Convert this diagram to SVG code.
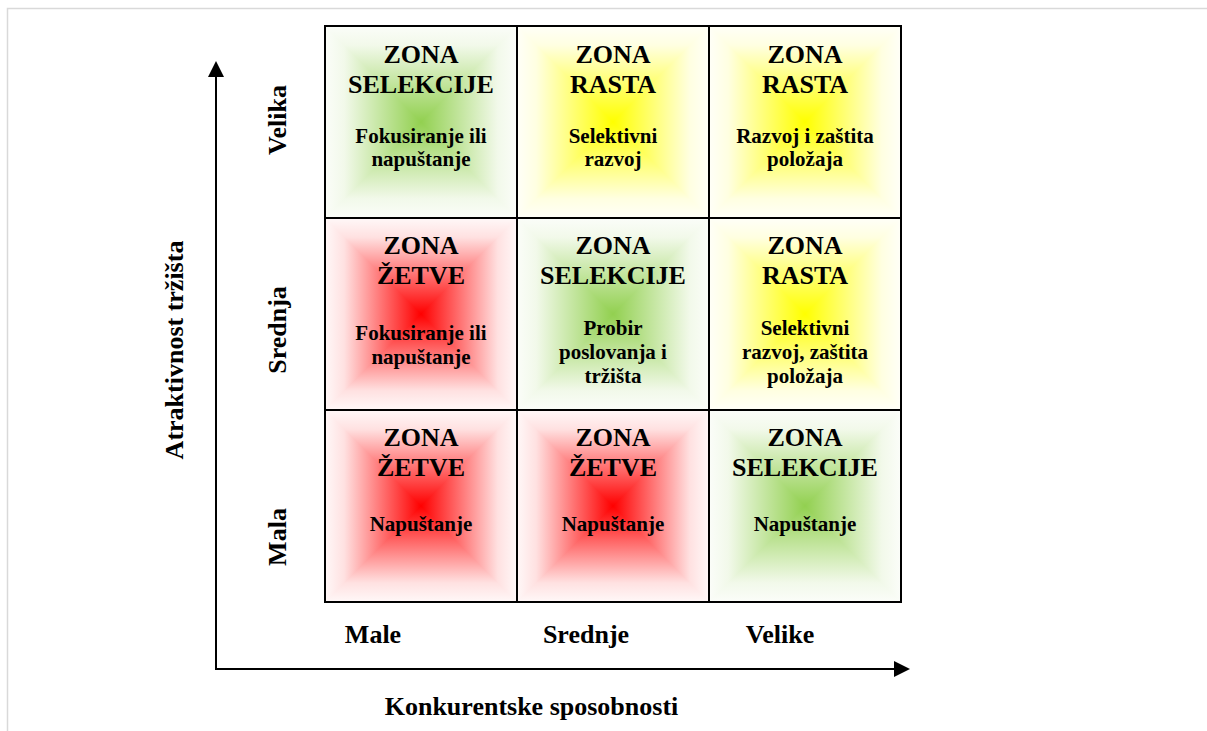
<svg xmlns="http://www.w3.org/2000/svg" width="1207" height="731" viewBox="0 0 1207 731">
<style>
.t{font-family:"Liberation Serif","Times New Roman",serif;font-weight:bold;fill:#000;text-anchor:middle}
.h{font-size:26px}
.s{font-size:21px}
.ax{font-size:26px}
.cell{fill:none;stroke:#000;stroke-width:2}
.line{stroke:#000;stroke-width:2;fill:none}
.gs0{stop-color:#92d050}.gs1{stop-color:#ceeab0}.gs2{stop-color:#f2f9ea}.gs3{stop-color:#fbfdf9}
.ys0{stop-color:#ffff00}.ys1{stop-color:#ffff8c}.ys2{stop-color:#ffffe1}.ys3{stop-color:#fffff8}
.rs0{stop-color:#ff0000}.rs1{stop-color:#ff8c8c}.rs2{stop-color:#ffe1e1}.rs3{stop-color:#fff8f8}
</style>
<defs>
<linearGradient id="gT" x1="0" y1="1" x2="0" y2="0"><stop offset="0" class="gs0"/><stop offset="0.5" class="gs1"/><stop offset="0.8" class="gs2"/><stop offset="1" class="gs3"/></linearGradient>
<linearGradient id="gB" href="#gT" x1="0" y1="0" x2="0" y2="1"/>
<linearGradient id="gL" href="#gT" x1="1" y1="0" x2="0" y2="0"/>
<linearGradient id="gR" href="#gT" x1="0" y1="0" x2="1" y2="0"/>
<linearGradient id="yT" x1="0" y1="1" x2="0" y2="0"><stop offset="0" class="ys0"/><stop offset="0.5" class="ys1"/><stop offset="0.8" class="ys2"/><stop offset="1" class="ys3"/></linearGradient>
<linearGradient id="yB" href="#yT" x1="0" y1="0" x2="0" y2="1"/>
<linearGradient id="yL" href="#yT" x1="1" y1="0" x2="0" y2="0"/>
<linearGradient id="yR" href="#yT" x1="0" y1="0" x2="1" y2="0"/>
<linearGradient id="rT" x1="0" y1="1" x2="0" y2="0"><stop offset="0" class="rs0"/><stop offset="0.5" class="rs1"/><stop offset="0.8" class="rs2"/><stop offset="1" class="rs3"/></linearGradient>
<linearGradient id="rB" href="#rT" x1="0" y1="0" x2="0" y2="1"/>
<linearGradient id="rL" href="#rT" x1="1" y1="0" x2="0" y2="0"/>
<linearGradient id="rR" href="#rT" x1="0" y1="0" x2="1" y2="0"/>
<marker id="arr" markerWidth="16" markerHeight="16" refX="14" refY="8" orient="auto" markerUnits="userSpaceOnUse"><path d="M0,0 L16,8 L0,16 Z" fill="#000"/></marker>
</defs>
<rect width="1207" height="731" fill="#fff"/>
<path d="M7.5,731 V8.5 H1207" fill="none" stroke="#d9d9d9" stroke-width="1.5"/>

<g id="cell-r1c1">
<polygon points="325,26 517,26 421,122" fill="url(#gT)" stroke="url(#gT)" stroke-width="1"/>
<polygon points="325,218 517,218 421,122" fill="url(#gB)" stroke="url(#gB)" stroke-width="1"/>
<polygon points="325,26 325,218 421,122" fill="url(#gL)" stroke="url(#gL)" stroke-width="1"/>
<polygon points="517,26 517,218 421,122" fill="url(#gR)" stroke="url(#gR)" stroke-width="1"/>
<rect class="cell" x="325" y="26" width="192" height="192"/>
<text class="t h" x="421" y="62.5">ZONA</text>
<text class="t h" x="421" y="92.5">SELEKCIJE</text>
<text class="t s" x="421" y="142.5">Fokusiranje ili</text>
<text class="t s" x="421" y="166">napuštanje</text>
</g>
<g id="cell-r1c2">
<polygon points="517,26 709,26 613,122" fill="url(#yT)" stroke="url(#yT)" stroke-width="1"/>
<polygon points="517,218 709,218 613,122" fill="url(#yB)" stroke="url(#yB)" stroke-width="1"/>
<polygon points="517,26 517,218 613,122" fill="url(#yL)" stroke="url(#yL)" stroke-width="1"/>
<polygon points="709,26 709,218 613,122" fill="url(#yR)" stroke="url(#yR)" stroke-width="1"/>
<rect class="cell" x="517" y="26" width="192" height="192"/>
<text class="t h" x="613" y="62.5">ZONA</text>
<text class="t h" x="613" y="92.5">RASTA</text>
<text class="t s" x="613" y="142.5">Selektivni</text>
<text class="t s" x="613" y="166">razvoj</text>
</g>
<g id="cell-r1c3">
<polygon points="709,26 901,26 805,122" fill="url(#yT)" stroke="url(#yT)" stroke-width="1"/>
<polygon points="709,218 901,218 805,122" fill="url(#yB)" stroke="url(#yB)" stroke-width="1"/>
<polygon points="709,26 709,218 805,122" fill="url(#yL)" stroke="url(#yL)" stroke-width="1"/>
<polygon points="901,26 901,218 805,122" fill="url(#yR)" stroke="url(#yR)" stroke-width="1"/>
<rect class="cell" x="709" y="26" width="192" height="192"/>
<text class="t h" x="805" y="62.5">ZONA</text>
<text class="t h" x="805" y="92.5">RASTA</text>
<text class="t s" x="805" y="142.5">Razvoj i zaštita</text>
<text class="t s" x="805" y="166">položaja</text>
</g>

<g id="cell-r2c1">
<polygon points="325,218 517,218 421,314" fill="url(#rT)" stroke="url(#rT)" stroke-width="1"/>
<polygon points="325,410 517,410 421,314" fill="url(#rB)" stroke="url(#rB)" stroke-width="1"/>
<polygon points="325,218 325,410 421,314" fill="url(#rL)" stroke="url(#rL)" stroke-width="1"/>
<polygon points="517,218 517,410 421,314" fill="url(#rR)" stroke="url(#rR)" stroke-width="1"/>
<rect class="cell" x="325" y="218" width="192" height="192"/>
<text class="t h" x="421" y="254">ZONA</text>
<text class="t h" x="421" y="284">ŽETVE</text>
<text class="t s" x="421" y="340">Fokusiranje ili</text>
<text class="t s" x="421" y="364">napuštanje</text>
</g>
<g id="cell-r2c2">
<polygon points="517,218 709,218 613,314" fill="url(#gT)" stroke="url(#gT)" stroke-width="1"/>
<polygon points="517,410 709,410 613,314" fill="url(#gB)" stroke="url(#gB)" stroke-width="1"/>
<polygon points="517,218 517,410 613,314" fill="url(#gL)" stroke="url(#gL)" stroke-width="1"/>
<polygon points="709,218 709,410 613,314" fill="url(#gR)" stroke="url(#gR)" stroke-width="1"/>
<rect class="cell" x="517" y="218" width="192" height="192"/>
<text class="t h" x="613" y="254">ZONA</text>
<text class="t h" x="613" y="284">SELEKCIJE</text>
<text class="t s" x="613" y="335">Probir</text>
<text class="t s" x="613" y="359">poslovanja i</text>
<text class="t s" x="613" y="383">tržišta</text>
</g>
<g id="cell-r2c3">
<polygon points="709,218 901,218 805,314" fill="url(#yT)" stroke="url(#yT)" stroke-width="1"/>
<polygon points="709,410 901,410 805,314" fill="url(#yB)" stroke="url(#yB)" stroke-width="1"/>
<polygon points="709,218 709,410 805,314" fill="url(#yL)" stroke="url(#yL)" stroke-width="1"/>
<polygon points="901,218 901,410 805,314" fill="url(#yR)" stroke="url(#yR)" stroke-width="1"/>
<rect class="cell" x="709" y="218" width="192" height="192"/>
<text class="t h" x="805" y="254">ZONA</text>
<text class="t h" x="805" y="284">RASTA</text>
<text class="t s" x="805" y="335">Selektivni</text>
<text class="t s" x="805" y="359">razvoj, zaštita</text>
<text class="t s" x="805" y="383">položaja</text>
</g>

<g id="cell-r3c1">
<polygon points="325,410 517,410 421,506" fill="url(#rT)" stroke="url(#rT)" stroke-width="1"/>
<polygon points="325,602 517,602 421,506" fill="url(#rB)" stroke="url(#rB)" stroke-width="1"/>
<polygon points="325,410 325,602 421,506" fill="url(#rL)" stroke="url(#rL)" stroke-width="1"/>
<polygon points="517,410 517,602 421,506" fill="url(#rR)" stroke="url(#rR)" stroke-width="1"/>
<rect class="cell" x="325" y="410" width="192" height="192"/>
<text class="t h" x="421" y="446">ZONA</text>
<text class="t h" x="421" y="476">ŽETVE</text>
<text class="t s" x="421" y="531">Napuštanje</text>
</g>
<g id="cell-r3c2">
<polygon points="517,410 709,410 613,506" fill="url(#rT)" stroke="url(#rT)" stroke-width="1"/>
<polygon points="517,602 709,602 613,506" fill="url(#rB)" stroke="url(#rB)" stroke-width="1"/>
<polygon points="517,410 517,602 613,506" fill="url(#rL)" stroke="url(#rL)" stroke-width="1"/>
<polygon points="709,410 709,602 613,506" fill="url(#rR)" stroke="url(#rR)" stroke-width="1"/>
<rect class="cell" x="517" y="410" width="192" height="192"/>
<text class="t h" x="613" y="446">ZONA</text>
<text class="t h" x="613" y="476">ŽETVE</text>
<text class="t s" x="613" y="531">Napuštanje</text>
</g>
<g id="cell-r3c3">
<polygon points="709,410 901,410 805,506" fill="url(#gT)" stroke="url(#gT)" stroke-width="1"/>
<polygon points="709,602 901,602 805,506" fill="url(#gB)" stroke="url(#gB)" stroke-width="1"/>
<polygon points="709,410 709,602 805,506" fill="url(#gL)" stroke="url(#gL)" stroke-width="1"/>
<polygon points="901,410 901,602 805,506" fill="url(#gR)" stroke="url(#gR)" stroke-width="1"/>
<rect class="cell" x="709" y="410" width="192" height="192"/>
<text class="t h" x="805" y="446">ZONA</text>
<text class="t h" x="805" y="476">SELEKCIJE</text>
<text class="t s" x="805" y="531">Napuštanje</text>
</g>

<g id="connectors">
<line class="line" x1="216" y1="669" x2="216" y2="63" marker-end="url(#arr)"/>
<line class="line" x1="215" y1="669" x2="908" y2="669" marker-end="url(#arr)"/>
</g>

<g id="labels">
<text class="t ax" x="373" y="643">Male</text>
<text class="t ax" x="586" y="643">Srednje</text>
<text class="t ax" x="780" y="643">Velike</text>
<text class="t ax" x="531.5" y="715">Konkurentske sposobnosti</text>
<text class="t ax" transform="translate(286,120) rotate(-90)">Velika</text>
<text class="t ax" transform="translate(286,330) rotate(-90)">Srednja</text>
<text class="t ax" transform="translate(286,537) rotate(-90)">Mala</text>
<text class="t ax" transform="translate(183,350) rotate(-90)">Atraktivnost tržišta</text>
</g>
</svg>
